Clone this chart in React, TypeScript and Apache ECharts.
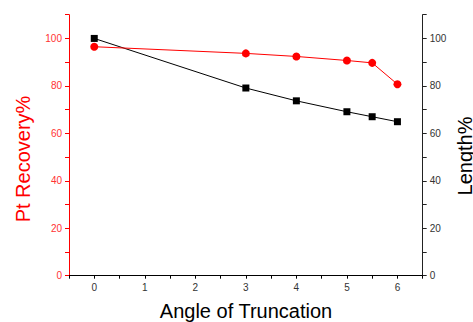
import React, { useEffect, useRef } from "react";
import * as echarts from "echarts";

const angles = [0, 3, 4, 5, 5.5, 6];
const ptRecovery = [96.5, 93.7, 92.4, 90.7, 89.7, 80.7];
const lengthPct = [100, 79.1, 73.7, 69.1, 67.0, 64.9];

const FONT = 'Arial, "Liberation Sans", sans-serif';

export default function App() {
  const ref = useRef<HTMLDivElement>(null);
  useEffect(() => {
    if (!ref.current) return;
    const chart = echarts.init(ref.current, null, { renderer: "svg" });
    const yLabelFmt = (v: number) => (Math.round(v) % 20 === 0 && v <= 100 ? String(v) : "");
    chart.setOption({
      animation: false,
      backgroundColor: "#fff",
      grid: { left: 69, right: 50.3, top: 14.7, bottom: 46.3, containLabel: false },
      xAxis: {
        type: "value",
        min: -0.5,
        max: 6.5,
        interval: 0.5,
        axisLine: { show: true, onZero: false, lineStyle: { color: "#000", width: 1 } },
        axisTick: { show: true, inside: false, length: 3, lineStyle: { color: "#000" } },
        axisLabel: {
          color: "#333",
          fontSize: 10,
          fontFamily: FONT,
          margin: 7,
          formatter: (v: number) => (Number.isInteger(v) ? String(v) : ""),
        },
        splitLine: { show: false },
      },
      yAxis: [
        {
          type: "value",
          position: "left",
          min: 0,
          max: 110,
          interval: 10,
          axisLine: { show: true, onZero: false, lineStyle: { color: "#ff0000", width: 1 } },
          axisTick: { show: true, inside: false, length: 4, lineStyle: { color: "#ff0000" } },
          axisLabel: { color: "#ff3333", fontSize: 10, fontFamily: FONT, margin: 7, formatter: yLabelFmt },
          splitLine: { show: false },
        },
        {
          type: "value",
          position: "right",
          min: 0,
          max: 110,
          interval: 10,
          axisLine: { show: true, onZero: false, lineStyle: { color: "#222", width: 1 } },
          axisTick: { show: true, inside: false, length: 4, lineStyle: { color: "#222" } },
          axisLabel: { color: "#333", fontSize: 10, fontFamily: FONT, margin: 7, formatter: yLabelFmt },
          splitLine: { show: false },
        },
      ],
      series: [
        {
          type: "line",
          yAxisIndex: 1,
          data: angles.map((a, i) => [a, lengthPct[i]]),
          symbol: "rect",
          symbolSize: 7,
          itemStyle: { color: "#000" },
          lineStyle: { color: "#000", width: 1 },
          z: 2,
        },
        {
          type: "line",
          yAxisIndex: 0,
          data: angles.map((a, i) => [a, ptRecovery[i]]),
          symbol: "circle",
          symbolSize: 8,
          itemStyle: { color: "#ff0000" },
          lineStyle: { color: "#ff0000", width: 1 },
          z: 3,
        },
      ],
      graphic: [
        {
          type: "text",
          x: 22.5,
          y: 159,
          rotation: Math.PI / 2,
          style: {
            text: "Pt Recovery%",
            fill: "#ff0000",
            fontSize: 20,
            fontFamily: FONT,
            textAlign: "center",
            textVerticalAlign: "middle",
          },
        },
        {
          type: "text",
          x: 465,
          y: 156,
          rotation: Math.PI / 2,
          style: {
            text: "Length%",
            fill: "#000",
            fontSize: 20,
            fontFamily: FONT,
            textAlign: "center",
            textVerticalAlign: "middle",
          },
        },
        {
          type: "text",
          x: 246,
          y: 311,
          style: {
            text: "Angle of Truncation",
            fill: "#000",
            fontSize: 20,
            fontFamily: FONT,
            textAlign: "center",
            textVerticalAlign: "middle",
          },
        },
      ],
    });
    return () => chart.dispose();
  }, []);
  return <div ref={ref} style={{ width: 473, height: 322, position: "absolute", left: 0, top: 0 }} />;
}
